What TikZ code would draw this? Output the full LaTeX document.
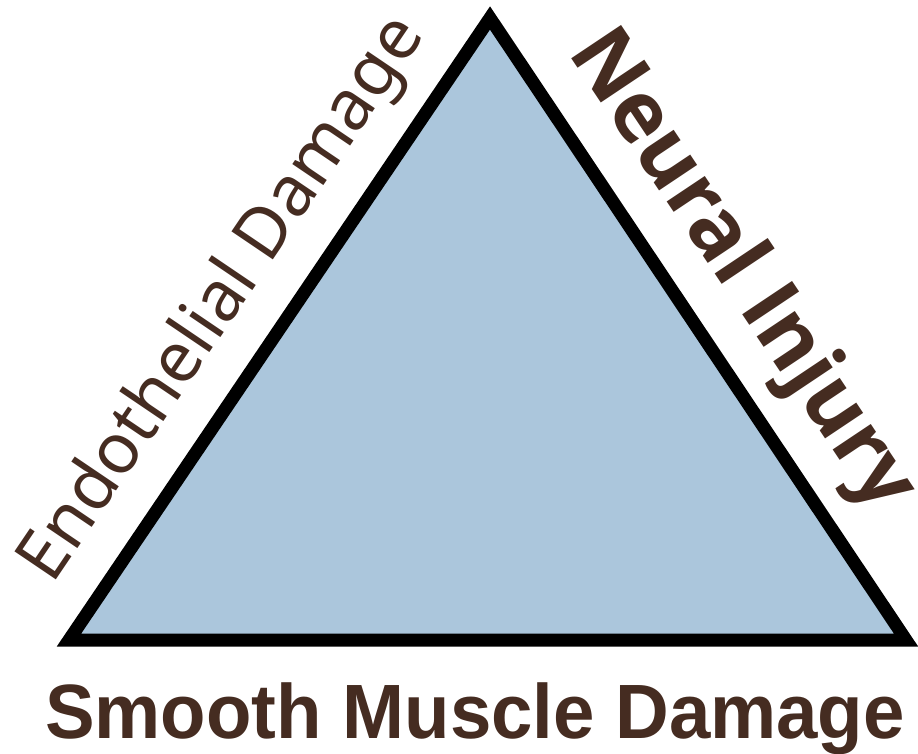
\documentclass[tikz,border=0pt]{standalone}
\usepackage{fontspec}
\setmainfont{Noto Sans}
\newfontfamily\arialfont{Liberation Sans}
\newfontfamily\neuralfont{Open Sans}
\usepackage{tikz}
\definecolor{trifill}{HTML}{ABC6DC}
\definecolor{labelbrown}{HTML}{452C21}

\begin{document}
\begin{tikzpicture}[
  x=1pt, y=1pt,
  tri/.style={draw=black, line width=13pt, fill=trifill, line join=miter},
  lbl/.style={text=labelbrown, inner sep=0pt, anchor=base}
]
  \useasboundingbox (0,0) rectangle (918,753);
  \coordinate (bl) at (69,113);
  \coordinate (apex) at (490,735);
  \coordinate (br) at (906,113);
  \draw[tri] (bl) -- (apex) -- (br) -- cycle;
  % side labels
  \path (bl) -- (apex) node[lbl, pos=0.49, sloped, yshift=44pt, font=\fontsize{70}{72}\selectfont] (endo) {Endothelial Damage};
  \path (apex) -- (br) node[lbl, pos=0.468, sloped, yshift=45pt, font=\neuralfont\bfseries\fontsize{84}{88}\selectfont] (neural) {Neural Injury};
  \node[lbl, font=\arialfont\bfseries\fontsize{77}{80}\selectfont] (smooth) at (475,15) {\scalebox{0.966}[1]{Smooth Muscle Damage}};
\end{tikzpicture}
\end{document}
